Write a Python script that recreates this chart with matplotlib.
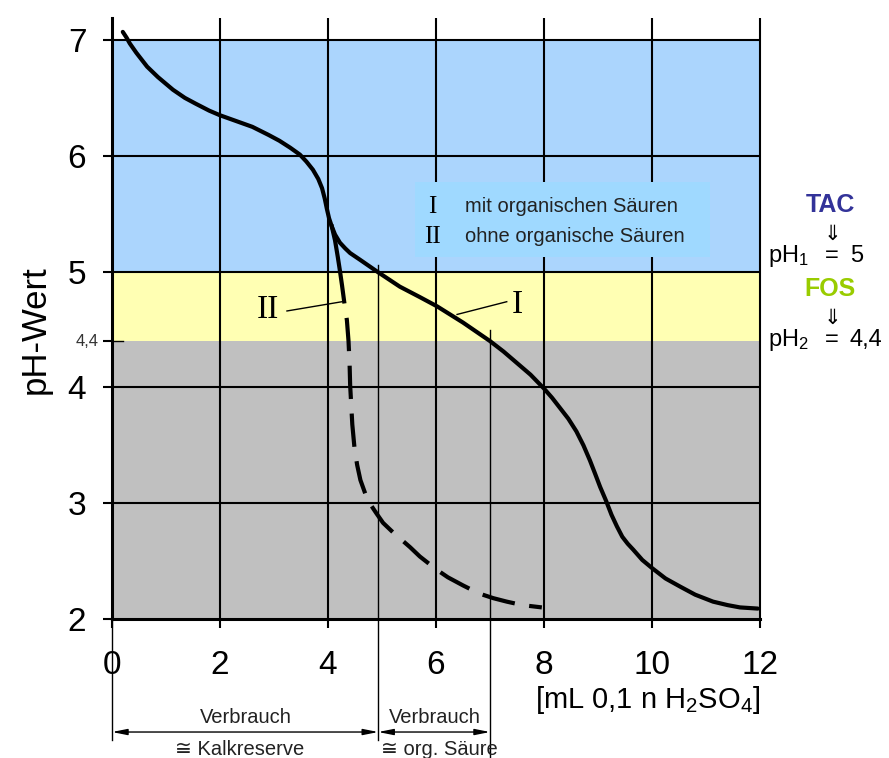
import matplotlib
matplotlib.use('Agg')
import matplotlib.pyplot as plt

plt.rcParams['font.family'] = ['Liberation Sans', 'DejaVu Sans']
plt.rcParams['mathtext.fontset'] = 'custom'
plt.rcParams['mathtext.rm'] = 'Liberation Sans'
plt.rcParams['mathtext.it'] = 'Liberation Sans'

# Kurve I: mit organischen Säuren
x_I = [0.20, 0.27, 0.33, 0.45, 0.65, 0.85, 1.13, 1.35, 1.55, 1.8, 2.0, 2.3, 2.6, 2.9, 3.1,
       3.3, 3.48, 3.6, 3.72, 3.82, 3.89, 3.94, 3.98, 4.02, 4.07, 4.13, 4.22, 4.32, 4.41,
       4.6, 4.91, 5.33, 5.7, 6.02, 6.5, 7.0, 7.25, 7.5, 7.75, 8.0, 8.15, 8.30, 8.45, 8.60,
       8.73, 8.85, 8.95, 9.04, 9.15, 9.25, 9.35, 9.45, 9.55, 9.65, 9.82, 10.0, 10.25, 10.52,
       10.8, 11.13, 11.4, 11.63, 11.96]
y_I = [7.07, 7.02, 6.97, 6.89, 6.77, 6.68, 6.57, 6.50, 6.45, 6.39, 6.35, 6.30, 6.25, 6.18, 6.13,
       6.07, 6.01, 5.95, 5.88, 5.80, 5.72, 5.63, 5.54, 5.46, 5.39, 5.32, 5.25, 5.20, 5.16,
       5.10, 5.00, 4.87, 4.78, 4.70, 4.56, 4.40, 4.31, 4.21, 4.11, 3.99, 3.91, 3.82, 3.73, 3.62,
       3.50, 3.37, 3.25, 3.14, 3.02, 2.90, 2.80, 2.71, 2.65, 2.60, 2.51, 2.44, 2.35, 2.28,
       2.21, 2.15, 2.12, 2.10, 2.09]

# Kurve II: ohne organische Säuren (Abzweig von I)
x_II_solid = [4.07, 4.13, 4.18, 4.22]
y_II_solid = [5.39, 5.27, 5.13, 5.01]
x_II = [4.22, 4.26, 4.30, 4.35, 4.38, 4.40, 4.41, 4.43, 4.45, 4.49, 4.54, 4.60, 4.70, 4.80,
        4.90, 5.02, 5.20, 5.52, 5.70, 6.0, 6.22, 6.5, 6.8, 7.06, 7.31, 7.6, 7.96]
y_II = [5.01, 4.88, 4.74, 4.58, 4.40, 4.20, 4.02, 3.85, 3.68, 3.48, 3.33, 3.20, 3.07, 2.98,
        2.91, 2.83, 2.75, 2.62, 2.54, 2.43, 2.36, 2.29, 2.22, 2.18, 2.15, 2.12, 2.10]

x_ticks = [0, 2, 4, 6, 8, 10, 12]
y_ticks = [2, 3, 4, 4.4, 5, 6, 7]
y_labels = ['2', '3', '4', '', '5', '6', '7']

W, H = 889, 758
fig = plt.figure(figsize=(W / 100, H / 100), dpi=100)
ax = fig.add_axes([112 / W, 1 - 619 / H, 648 / W, 601 / H])
ax.set_xlim(0, 12)
ax.set_ylim(2, 7.19)

# Farbbänder
ax.axhspan(5, 7, color='#abd5fd', lw=0, zorder=0)
ax.axhspan(4.4, 5, color='#ffffb3', lw=0, zorder=0)
ax.axhspan(2, 4.4, color='#c0c0c0', lw=0, zorder=0)

# Gitter
ax.hlines([3, 4, 5, 6, 7], 0, 12, color='black', lw=1.5, zorder=1)
ax.vlines(x_ticks[1:], 2, 7.19, color='black', lw=1.5, zorder=1, clip_on=False)

for s in ['top', 'right']:
    ax.spines[s].set_visible(False)
ax.spines['left'].set_linewidth(2.2)
ax.spines['bottom'].set_linewidth(2.2)

ax.set_xticks(x_ticks)
ax.set_xticklabels([str(v) for v in x_ticks], fontsize=24)
ax.set_yticks(y_ticks)
ax.set_yticklabels(y_labels, fontsize=24)
ax.tick_params(axis='both', length=6.5, width=1.5, direction='out')
ax.tick_params(axis='x', pad=16)
ax.tick_params(axis='y', pad=12)
ax.plot([0, 0.2], [4.4, 4.4], color='black', lw=1, zorder=2)
ax.text(-0.24, 4.4, '4,4', fontsize=12, color='#333333', ha='right', va='center')

# Kurven
ax.plot(x_I, y_I, color='black', lw=3, solid_capstyle='round', solid_joinstyle='round', zorder=3)
ax.plot(x_II_solid, y_II_solid, color='black', lw=3, solid_joinstyle='round', zorder=3)
ax.plot(x_II, y_II, color='black', lw=3, dashes=(8, 3.5), zorder=3)

# Kurvenbeschriftung
ax.plot([6.39, 7.31], [4.63, 4.74], color='black', lw=1, zorder=3)
ax.text(7.5, 4.71, 'I', family='Liberation Serif', fontsize=24, ha='center', va='center')
ax.plot([3.24, 4.26], [4.66, 4.74], color='black', lw=1, zorder=3)
ax.text(2.89, 4.67, 'II', family='Liberation Serif', fontsize=24, ha='center', va='center')

# Legende
ax.add_patch(plt.Rectangle((5.61, 5.13), 5.46, 0.64, color='#9fd9ff', lw=0, zorder=2))
ax.text(5.93, 5.56, 'I', family='Liberation Serif', fontsize=18, ha='center', va='center')
ax.text(5.93, 5.30, 'II', family='Liberation Serif', fontsize=18, ha='center', va='center')
ax.text(6.54, 5.56, 'mit organischen Säuren', fontsize=14.5, va='center', color='#222222')
ax.text(6.54, 5.30, 'ohne organische Säuren', fontsize=14.5, va='center', color='#222222')

# Verbrauchsbereiche unten
ax.plot([0, 0], [2, 0.955], color='black', lw=1, clip_on=False)
ax.plot([4.93, 4.93], [5.06, 0.955], color='black', lw=1, clip_on=False, zorder=2)
ax.plot([7, 7], [4.50, 0.80], color='black', lw=1, clip_on=False, zorder=2)
arrow = dict(arrowstyle='<|-|>,head_length=0.9,head_width=0.18', color='black', lw=1,
             shrinkA=0, shrinkB=0)
ax.annotate('', xy=(0, 1.024), xytext=(4.93, 1.024), arrowprops=arrow, annotation_clip=False)
ax.annotate('', xy=(4.93, 1.024), xytext=(7, 1.024), arrowprops=arrow, annotation_clip=False)
ax.text(2.47, 1.15, 'Verbrauch', fontsize=14.5, ha='center', va='center', clip_on=False,
        color='#222222')
ax.text(5.98, 1.15, 'Verbrauch', fontsize=14.5, ha='center', va='center', clip_on=False,
        color='#222222')
ax.text(2.37, 0.875, '≅ Kalkreserve', fontsize=14.5, ha='center', va='center',
        family=['Liberation Sans', 'DejaVu Sans'], color='#222222')
ax.text(4.98, 0.875, '≅ org. Säure', fontsize=14.5, ha='left', va='center',
        family=['Liberation Sans', 'DejaVu Sans'], color='#222222')


def px(x, y):
    return x / W, 1 - y / H


fig.text(*px(35, 330), 'pH-Wert', fontsize=25, rotation=90, ha='center', va='center')
fig.text(*px(648, 700), '[mL 0,1 n H$_2$SO$_4$]', fontsize=21, ha='center', va='center')

# TAC / FOS
fig.text(*px(830, 205), 'TAC', fontsize=18, fontweight='bold', color='#333399',
         ha='center', va='center')
fig.text(*px(832, 234), '⇓', fontsize=15, family='DejaVu Sans', ha='center', va='center')
fig.text(*px(768, 256), 'pH$_1$', fontsize=17, ha='left', va='center')
fig.text(*px(832, 256), '=', fontsize=17, ha='center', va='center')
fig.text(*px(850, 256), '5', fontsize=17, ha='left', va='center')
fig.text(*px(830, 289), 'FOS', fontsize=18, fontweight='bold', color='#99cc00',
         ha='center', va='center')
fig.text(*px(832, 318), '⇓', fontsize=15, family='DejaVu Sans', ha='center', va='center')
fig.text(*px(768, 340), 'pH$_2$', fontsize=17, ha='left', va='center')
fig.text(*px(832, 340), '=', fontsize=17, ha='center', va='center')
fig.text(*px(850, 340), '4,4', fontsize=17, ha='left', va='center')

fig.savefig('out.png', dpi=100)
